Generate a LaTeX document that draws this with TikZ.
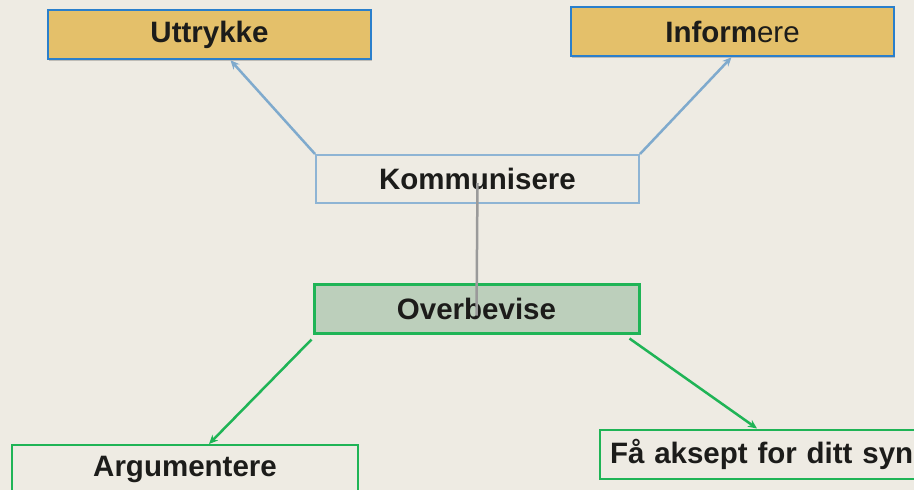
\documentclass[tikz,border=0pt]{standalone}
\usepackage{fontspec}
\setmainfont{Liberation Sans}
\usetikzlibrary{arrows.meta,calc,shadows}
\definecolor{bgcol}{HTML}{EEEBE3}
\definecolor{goldfill}{HTML}{E4C06A}
\definecolor{topborder}{HTML}{2A7FCC}
\definecolor{lightblue}{HTML}{8EB4D4}
\definecolor{arrowblue}{HTML}{7FAACD}
\definecolor{greenline}{HTML}{1FB456}
\definecolor{sagefill}{HTML}{BCCFBB}
\definecolor{textdark}{HTML}{1C1C1A}
\definecolor{stemgray}{HTML}{9A9A9A}
\tikzset{
  label/.style={font=\fontsize{29.5}{32}\selectfont\bfseries, text=textdark, inner sep=0pt},
  goldbox/.style={label, draw=topborder, line width=2.5pt, fill=goldfill,
    minimum width=323pt, minimum height=49pt,
    drop shadow={shadow xshift=1pt, shadow yshift=-2pt, opacity=0.35, fill=black!60}},
  plainbox/.style={label, draw=lightblue, line width=2pt, fill=bgcol,
    minimum width=323pt, minimum height=48pt},
  sagebox/.style={label, draw=greenline, line width=3pt, fill=sagefill,
    minimum width=325pt, minimum height=49pt},
  leafbox/.style={label, draw=greenline, line width=2pt, fill=bgcol,
    minimum height=49pt},
  bluearrow/.style={draw=arrowblue, line width=2.5pt, -{Stealth[length=9pt,width=8pt]}},
  greenarrow/.style={draw=greenline, line width=2.5pt, -{Stealth[length=9pt,width=8pt]}},
  stem/.style={draw=stemgray, line width=2.5pt}
}
\begin{document}
\begin{tikzpicture}[x=1pt,y=-1pt]
  \useasboundingbox (0,0) rectangle (914,490);
  \clip (0,0) rectangle (914,490);
  \fill[bgcol] (0,0) rectangle (914,490);

  % upper level
  \node[goldbox] (utt) at (209.5,34.5) {Uttrykke};
  \node[goldbox] (inf) at (732.5,31.5) {Inform\mdseries ere};

  % middle level
  \node[plainbox] (komm) at (477.5,179) {Kommunisere};
  \node[sagebox] (over) at (476.5,308.5) {Overbevise};

  % lower level
  \node[leafbox, minimum width=346pt] (arg) at (185,469.5) {Argumentere};
  \node[leafbox, minimum width=330pt, text width=310pt, align=left] (faa) at (765,454) {Få aksept for ditt syn};

  % connectors
  \draw[bluearrow] (komm.north west) -- ($(utt.south)+(21,0)$);
  \draw[bluearrow] (komm.north east) -- ($(inf.south)+(-1,0)$);
  \draw[stem] ($(komm.center)+(0,4)$) -- ($(over.center)+(0,7)$);
  \draw[greenarrow] ($(over.south west)+(-1,5)$) -- ($(arg.north west)+(198,0)$);
  \draw[greenarrow] ($(over.south east)+(-11,4)$) -- ($(faa.north west)+(158,0)$);
\end{tikzpicture}
\end{document}
